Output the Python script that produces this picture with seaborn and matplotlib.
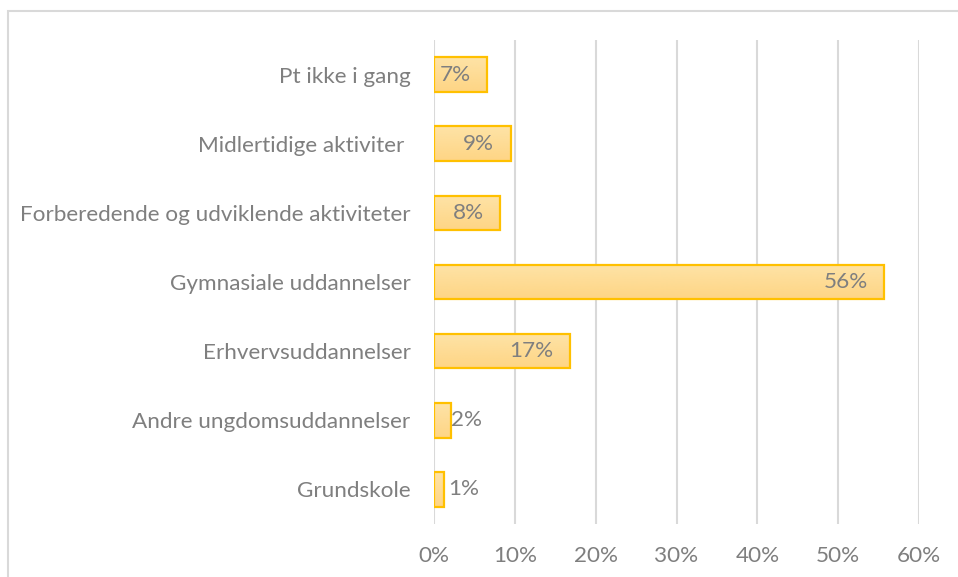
import numpy as np
import matplotlib
matplotlib.use('Agg')
import matplotlib.pyplot as plt
import matplotlib.colors as mcolors
from matplotlib.patches import Rectangle
import pandas as pd
import seaborn as sns

categories = ['Pt ikke i gang', 'Midlertidige aktiviter ', 'Forberedende og udviklende aktiviteter',
              'Gymnasiale uddannelser', 'Erhvervsuddannelser', 'Andre ungdomsuddannelser', 'Grundskole']
values = [6.6, 9.5, 8.2, 55.7, 16.8, 2.1, 1.2]
value_labels = ['7%', '9%', '8%', '56%', '17%', '2%', '1%']
xticks = [0, 10, 20, 30, 40, 50, 60]

grey_txt = '#7f7f7f'
grid_col = '#d9d9d9'
edge_col = '#ffc000'
top_col = '#fee3a6'
bot_col = '#fed585'
fs = 16.2

sns.set_style('white')
plt.rcParams['font.family'] = ['Lato', 'DejaVu Sans']

df = pd.DataFrame({'cat': categories, 'val': values})

fig = plt.figure(figsize=(9.58, 5.77), dpi=100)
ax = fig.add_axes([434/958, 1-524/577, (919-434)/958, (524-40)/577])

sns.barplot(data=df, x='val', y='cat', orient='h', ax=ax, width=0.5,
            color=top_col, edgecolor=edge_col, linewidth=1.6, saturation=1)

# gradient fill, lighter at the top like the excel bars
cmap = mcolors.LinearSegmentedColormap.from_list('g', [top_col, bot_col])
grad = np.linspace(0, 1, 64).reshape(-1, 1)
for p in ax.patches:
    x0, y0 = p.get_x(), p.get_y()
    w, h = p.get_width(), p.get_height()
    im = ax.imshow(grad, cmap=cmap, aspect='auto', origin='lower',
                   extent=[x0, x0 + w, y0, y0 + h], zorder=2)
    im.set_clip_path(p)
    p.set_facecolor('none')
    p.set_zorder(3)

ax.set_xlim(0, 60)
ax.set_ylim(6.5, -0.5)

for i, (v, lab) in enumerate(zip(values, value_labels)):
    if v < 4:
        ax.annotate(lab, (max(v, 1.8), i), ha='left', va='center', fontsize=fs,
                    color=grey_txt, zorder=4)
    else:
        ax.annotate(lab, (v, i), xytext=(-12, 0), textcoords='offset points',
                    ha='right', va='center', fontsize=fs, color=grey_txt, zorder=4)

ax.set_xticks(xticks)
ax.set_xticklabels([f'{t}%' for t in xticks])
ax.grid(axis='x', color=grid_col, linewidth=1.5)
ax.set_axisbelow(True)
sns.despine(ax=ax, left=True, bottom=True)
ax.tick_params(axis='both', length=0, labelsize=fs, colors=grey_txt)
ax.tick_params(axis='y', pad=17)
ax.tick_params(axis='x', pad=16)
ax.set_xlabel('')
ax.set_ylabel('')

# chart border (cut off at right and bottom in the original)
fig.patches.append(Rectangle((7.5/958, -0.1), 1.2, 1.1 - 10.5/577, transform=fig.transFigure,
                             fill=False, edgecolor=grid_col, linewidth=1.5))

fig.savefig('out.png', dpi=100)
